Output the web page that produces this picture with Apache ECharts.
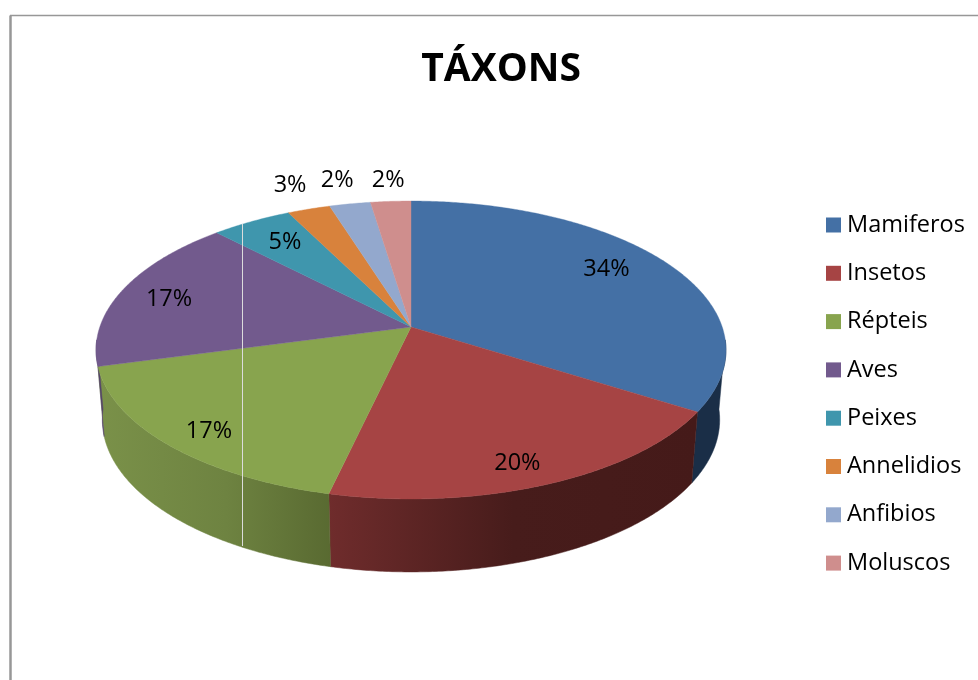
<!DOCTYPE html>
<html>
<head>
<meta charset="utf-8">
<style>html,body{margin:0;padding:0;background:#fff}#chart{width:978px;height:680px}</style>
<script src="https://cdn.jsdelivr.net/npm/echarts@6/dist/echarts.min.js"></script>
</head>
<body>
<div id="chart"></div>
<script>
// Share of recorded species per taxon.
const categories = ['Mamiferos', 'Insetos', 'Répteis', 'Aves', 'Peixes', 'Annelidios', 'Anfibios', 'Moluscos'];
const values = [34.0, 19.6, 17.2, 17.0, 4.8, 2.55, 2.45, 2.4];
const topColors = ['#4470a5', '#a64444', '#88a44e', '#725a8d', '#3f96ad', '#d8823c', '#93a8cd', '#cf8e8d'];
const wallStops = [
  [[0, '#1a2e47'], [1, '#1a2e47']],
  [[0, '#6f2c2c'], [0.5, '#471c1b'], [1, '#451a19']],
  [[0, '#7a9149'], [0.55, '#6e8341'], [1, '#596a31']],
  [[0, '#54436a'], [1, '#54436a']]
];
// Label placement per slice: radial fraction and angular nudge in degrees.
const labelRadius = [0.796, 0.865, 0.866, 0.828, 0.789, 1.247, 1.24, 1.211];
const labelTurn = [-3.9, 2.1, -1.4, -1.1, 0.9, 0.5, -0.05, 0.2];

// Perspective disc: unit circle projected around the apex of the pie.
const disc = { cx: 411, cy: 327, rx: 311.2, ry: 145.4, tilt: 0.1544 };
const floor = { drop: 69.2, scaleX: 0.98, scaleY: 1.022 };
const wallRange = [95, 265];
const labelFont = '"Open Sans", sans-serif';
const total = values.reduce((a, b) => a + b, 0);

function project(deg, r, lowered) {
  const t = deg * Math.PI / 180;
  const u = r * Math.sin(t), v = -r * Math.cos(t);
  const w = 1 - disc.tilt * v;
  return [
    disc.cx + (lowered ? floor.scaleX : 1) * disc.rx * u / w,
    disc.cy + (lowered ? floor.drop : 0) + (lowered ? floor.scaleY : 1) * disc.ry * v / w
  ];
}
function rim(a, b, lowered) {
  const pts = [];
  const n = Math.max(2, Math.ceil(Math.abs(b - a) * 2));
  for (let i = 0; i <= n; i++) pts.push(project(a + (b - a) * i / n, 1, lowered));
  return pts;
}
function startAngle(idx) {
  let c = 0;
  for (let i = 0; i < idx; i++) c += values[i];
  return c / total * 360;
}

function renderSlice(idx) {
  return function (params, api) {
    const value = api.value(0);
    const a = startAngle(idx), b = a + value / total * 360;
    const children = [];
    const wa = Math.max(a, wallRange[0]), wb = Math.min(b, wallRange[1]);
    if (wb > wa) {
      const pts = rim(wa, wb, false).concat(rim(wa, wb, true).reverse());
      const fill = new echarts.graphic.LinearGradient(0, 0, 1, 0,
        wallStops[idx].map(s => ({ offset: s[0], color: s[1] })));
      children.push({ type: 'polygon', z2: 1, shape: { points: pts },
        style: { fill: fill, stroke: fill, lineWidth: 0.5 } });
    }
    const top = [[disc.cx, disc.cy]].concat(rim(a, b, false));
    children.push({ type: 'polygon', z2: 2, shape: { points: top },
      style: { fill: topColors[idx], stroke: topColors[idx], lineWidth: 0.4 } });
    const pos = project((a + b) / 2 + labelTurn[idx], labelRadius[idx], false);
    children.push({ type: 'text', z2: 3, x: pos[0], y: pos[1] + 1, style: {
      text: Math.round(value / total * 100) + '%',
      font: '23.5px ' + labelFont, fill: '#000',
      align: 'center', verticalAlign: 'middle' } });
    return { type: 'group', children: children };
  };
}

const chart = echarts.init(document.getElementById('chart'), null, { renderer: 'canvas' });
chart.setOption({
  animation: false,
  backgroundColor: '#fff',
  title: {
    text: 'TÁXONS', left: 501, top: 50, padding: 0, textAlign: 'center',
    textStyle: { fontFamily: labelFont, fontWeight: 'bold', fontSize: 39, color: '#000' }
  },
  legend: {
    orient: 'vertical', left: 826, top: 213, padding: 0, icon: 'rect',
    itemWidth: 15, itemHeight: 15, itemGap: 24.3, itemStyle: { borderWidth: 0 },
    data: categories,
    textStyle: { fontFamily: labelFont, fontSize: 23.5, color: '#000', padding: [0, 0, 0, 1] }
  },
  series: categories.map((name, i) => ({
    type: 'custom', name: name, coordinateSystem: 'none',
    itemStyle: { color: topColors[i] },
    data: [[values[i]]],
    renderItem: renderSlice(i),
    silent: true
  })),
  graphic: [
    { type: 'line', z: 10, shape: { x1: 242.5, y1: 224, x2: 242.5, y2: 546 }, style: { stroke: '#dcdcdc', lineWidth: 1 } },
    { type: 'line', z: 10, shape: { x1: 10.5, y1: 15.5, x2: 10.5, y2: 680 }, style: { stroke: '#979797', lineWidth: 2.5 } },
    { type: 'line', z: 10, shape: { x1: 10, y1: 15.5, x2: 978, y2: 15.5 }, style: { stroke: '#979797', lineWidth: 1.5 } }
  ]
});
</script>
</body>
</html>
